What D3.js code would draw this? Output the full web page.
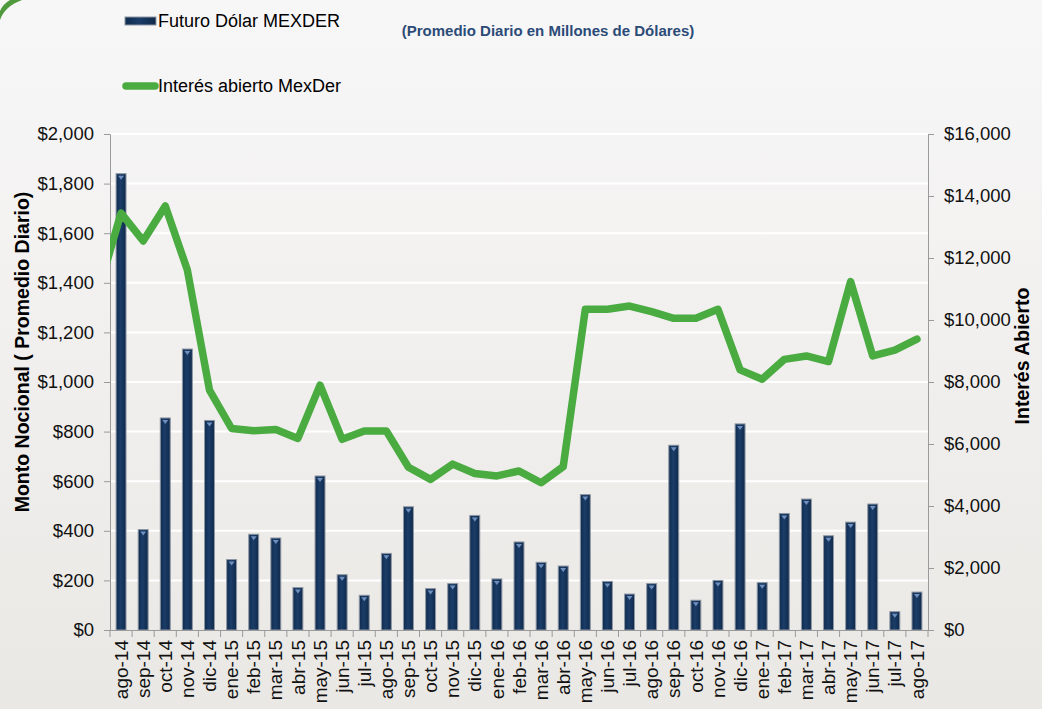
<!DOCTYPE html>
<head>
  <meta charset="utf-8">
  <script src="https://d3js.org/d3.v7.min.js"></script>
  <style>
  body,html {margin:0;padding:0;background:#f2f1f0;font-family:"Liberation Sans",Arial,sans-serif;}
  svg {display:block;}
  .axis path, .axis line {stroke:#9a9a9a;}
  .axis text {fill:#111;}
  </style>
</head>
<body>
<svg id="chart"></svg>
<script>
  const width = 1042;
  const height = 709;

  // months on the category axis
  const months = ["ago-14","sep-14","oct-14","nov-14","dic-14",
    "ene-15","feb-15","mar-15","abr-15","may-15","jun-15","jul-15","ago-15","sep-15","oct-15","nov-15","dic-15",
    "ene-16","feb-16","mar-16","abr-16","may-16","jun-16","jul-16","ago-16","sep-16","oct-16","nov-16","dic-16",
    "ene-17","feb-17","mar-17","abr-17","may-17","jun-17","jul-17","ago-17"];

  // Futuro Dólar MEXDER, promedio diario (millones USD)
  const futuro = [1840,405,855,1133,845,
    284,386,371,171,621,223,140,309,497,167,187,462,
    206,355,273,258,546,196,145,187,745,120,200,831,
    191,470,528,380,435,508,74,153];

  // Interés abierto MexDer
  const interes = [13450,12550,13680,11610,7740,
    6500,6430,6470,6180,7900,6150,6420,6420,5250,4860,5350,5050,
    4970,5130,4750,5270,10345,10345,10450,10270,10055,10055,10345,8390,
    8090,8730,8840,8660,11240,8840,9030,9380];
  // value of the month before ago-14, only its tail shows at the left edge
  const interesLead = 11000;

  const leftTicks = d3.range(0, 2001, 200);
  const rightTicks = d3.range(0, 16001, 2000);

  const L = 110, R = 928, T = 134, B = 630;

  const svg = d3.select("#chart").attr("width", width).attr("height", height);
  const defs = svg.append("defs");

  let bg = defs.append("linearGradient").attr("id","bg").attr("x1",0).attr("y1",0).attr("x2",0).attr("y2",1);
  bg.append("stop").attr("offset","0%").attr("stop-color","#f8f7f8");
  bg.append("stop").attr("offset","100%").attr("stop-color","#eae8e4");

  let barg = defs.append("linearGradient").attr("id","barg").attr("x1",0).attr("y1",0).attr("x2",1).attr("y2",0);
  barg.append("stop").attr("offset","0%").attr("stop-color","#102c4f");
  barg.append("stop").attr("offset","45%").attr("stop-color","#1b3d68");
  barg.append("stop").attr("offset","100%").attr("stop-color","#10294a");

  defs.append("clipPath").attr("id","plotclip")
    .append("rect").attr("x", L).attr("y", T - 10).attr("width", R - L).attr("height", B - T + 10);

  svg.append("rect").attr("width", width).attr("height", height).attr("fill","url(#bg)");

  // green swoosh in the corner
  svg.append("path")
    .attr("d","M0,20 Q5,6 22,0 L10,0 Q3,4 0,11 Z")
    .attr("fill","#4f9a3c");

  const x = d3.scaleBand().domain(months).range([L, R]).paddingInner(0.55).paddingOuter(0.275);
  const yL = d3.scaleLinear().domain([0, 2000]).range([B, T]);
  const yR = d3.scaleLinear().domain([0, 16000]).range([B, T]);
  const money = d => "$" + d3.format(",")(d);

  // gridlines
  svg.append("g").selectAll("line")
    .data(leftTicks.filter(d => d > 0))
    .enter().append("line")
    .attr("x1", L).attr("x2", R)
    .attr("y1", d => yL(d)).attr("y2", d => yL(d))
    .attr("stroke", "#ffffff").attr("stroke-width", 2);

  // bars
  const bw = x.bandwidth();
  let bars = svg.append("g").selectAll("g")
    .data(futuro)
    .enter().append("g");
  bars.append("rect")
    .attr("x", (d,i) => x(months[i]))
    .attr("y", d => yL(d))
    .attr("width", bw)
    .attr("height", d => B - yL(d))
    .attr("fill", "url(#barg)")
    .attr("stroke", "#8e97a4").attr("stroke-width", 1);
  bars.append("path")
    .attr("d", (d,i) => {
      const cx = x(months[i]) + bw/2, ty = yL(d) + 2;
      return `M${cx-3},${ty} L${cx+3},${ty} L${cx},${ty+4} Z`;
    })
    .attr("fill", "#6f8fbf");

  // axes
  svg.append("g").attr("class","axis")
    .attr("transform", `translate(${L},0)`)
    .call(d3.axisLeft(yL).tickValues(leftTicks).tickFormat(money).tickSize(6).tickPadding(10))
    .call(g => g.selectAll("text").style("font-size","18.5px"));

  svg.append("g").attr("class","axis")
    .attr("transform", `translate(${R},0)`)
    .call(d3.axisRight(yR).tickValues(rightTicks).tickFormat(money).tickSize(6).tickPadding(10))
    .call(g => g.selectAll("text").style("font-size","18.5px"));

  let xa = svg.append("g").attr("class","axis")
    .attr("transform", `translate(0,${B})`)
    .call(d3.axisBottom(x).tickSize(0).tickPadding(0));
  xa.selectAll("text")
    .style("font-size","19px")
    .attr("text-anchor","end")
    .attr("transform","rotate(-90)")
    .attr("x", -10).attr("y", 0).attr("dy","0.35em");
  // ticks between the categories
  xa.selectAll(".sep")
    .data(d3.range(months.length + 1))
    .enter().append("line").attr("class","sep")
    .attr("x1", i => L + i * x.step()).attr("x2", i => L + i * x.step())
    .attr("y1", 0).attr("y2", 7);

  // line
  const pts = [[x(months[0]) + bw/2 - x.step(), interesLead]]
    .concat(interes.map((v,i) => [x(months[i]) + bw/2, v]));
  svg.append("path")
    .datum(pts)
    .attr("clip-path","url(#plotclip)")
    .attr("d", d3.line().x(d => d[0]).y(d => yR(d[1])))
    .attr("fill","none")
    .attr("stroke","#4aab41")
    .attr("stroke-width", 7.5)
    .attr("stroke-linejoin","round")
    .attr("stroke-linecap","round");

  // axis titles
  svg.append("text")
    .attr("transform", `translate(29,${(T + B)/2 - 30}) rotate(-90)`)
    .attr("text-anchor","middle")
    .style("font-size","19.5px").style("font-weight","bold")
    .text("Monto Nocional ( Promedio Diario)");
  svg.append("text")
    .attr("transform", `translate(1029,${(T + B)/2 - 26}) rotate(-90)`)
    .attr("text-anchor","middle")
    .style("font-size","19.5px").style("font-weight","bold")
    .text("Interés Abierto");

  // title
  svg.append("text")
    .attr("x", 548).attr("y", 36)
    .attr("text-anchor","middle")
    .style("font-size","15px").style("font-weight","bold")
    .attr("fill","#2b4b77")
    .text("(Promedio Diario en Millones de Dólares)");

  // legend
  svg.append("rect")
    .attr("x", 125).attr("y", 17).attr("width", 31).attr("height", 8)
    .attr("fill","url(#barg)").attr("stroke","#8e97a4");
  svg.append("text").attr("x", 158).attr("y", 27)
    .style("font-size","18px").text("Futuro Dólar MEXDER");
  svg.append("line")
    .attr("x1", 126).attr("x2", 155).attr("y1", 86).attr("y2", 86)
    .attr("stroke","#4aab41").attr("stroke-width", 7.5).attr("stroke-linecap","round");
  svg.append("text").attr("x", 158).attr("y", 92)
    .style("font-size","18px").text("Interés abierto MexDer");
</script>
</body>
